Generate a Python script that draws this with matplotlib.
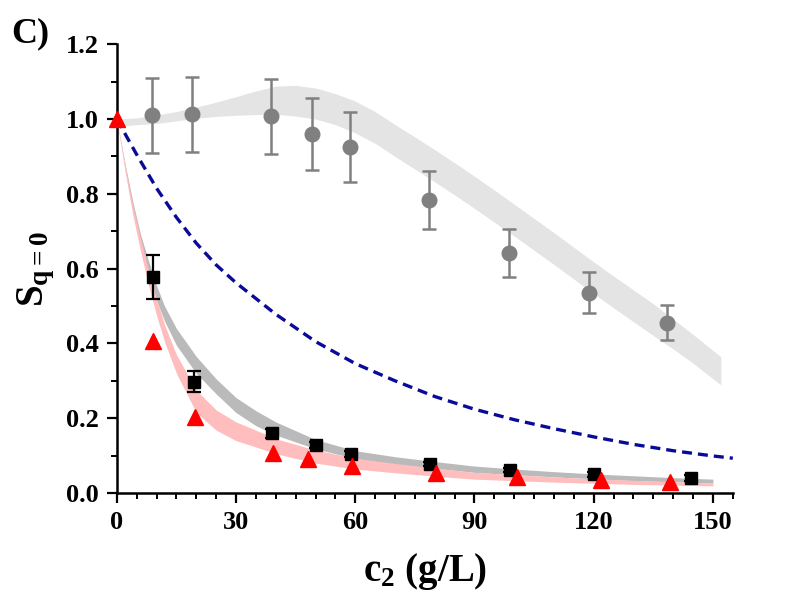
import numpy as np
import matplotlib
matplotlib.use("Agg")
import matplotlib.pyplot as plt
from matplotlib.ticker import MultipleLocator

plt.rcParams['font.family'] = ['Liberation Serif', 'DejaVu Serif']
plt.rcParams['font.weight'] = 'bold'
plt.rcParams['mathtext.fontset'] = 'custom'
plt.rcParams['mathtext.rm'] = 'Liberation Serif:bold'
plt.rcParams['mathtext.bf'] = 'Liberation Serif:bold'
plt.rcParams['mathtext.it'] = 'Liberation Serif:bold'

# measured points
circ_x = [8.8, 19.0, 38.7, 49.0, 58.6, 78.6, 98.6, 118.9, 138.5]
circ_y = [1.010, 1.013, 1.007, 0.961, 0.925, 0.783, 0.642, 0.535, 0.455]
circ_err = [0.10, 0.10, 0.10, 0.096, 0.094, 0.078, 0.065, 0.055, 0.047]

sq_x = [9.2, 19.3, 39.0, 50.1, 58.9, 78.8, 98.9, 120.2, 144.4]
sq_y = [0.578, 0.298, 0.160, 0.128, 0.104, 0.077, 0.061, 0.050, 0.041]
sq_err = [0.058, 0.029, 0.012, 0.008, 0.008, 0.006, 0.006, 0.006, 0.008]

tri_x = [0.0, 9.2, 19.7, 39.2, 48.0, 59.3, 80.2, 100.7, 121.8, 139.1]
tri_y = [1.0, 0.407, 0.202, 0.108, 0.090, 0.073, 0.053, 0.042, 0.035, 0.030]

# model bands
band1_x = [0, 5, 10, 15, 20, 25, 30, 35, 40, 45, 50, 55, 60, 65, 70, 75, 80, 85, 90, 95, 100,
           105, 110, 115, 120, 125, 130, 135, 140, 145, 152]
band1_hi = [1.0, 1.003, 1.011, 1.02, 1.032, 1.045, 1.06, 1.075, 1.088, 1.09, 1.083, 1.068, 1.048,
            1.02, 0.985, 0.952, 0.918, 0.883, 0.847, 0.81, 0.772, 0.734, 0.696, 0.657, 0.618,
            0.58, 0.543, 0.506, 0.465, 0.424, 0.364]
band1_lo = [0.98, 0.985, 0.988, 0.995, 1.002, 1.007, 1.01, 1.012, 1.013, 1.008, 1.0, 0.985, 0.963,
            0.935, 0.9, 0.866, 0.832, 0.797, 0.761, 0.724, 0.687, 0.649, 0.611, 0.572, 0.533,
            0.495, 0.458, 0.421, 0.385, 0.347, 0.289]

band_x = [0, 2, 4, 6, 8, 10, 12, 15, 20, 25, 30, 35, 40, 50, 60, 70, 80, 90, 100, 110, 120, 130, 140, 150]
band2_hi = [1.0, 0.885, 0.78, 0.69, 0.62, 0.555, 0.50, 0.44, 0.365, 0.305, 0.255, 0.22, 0.19, 0.143,
            0.113, 0.097, 0.084, 0.072, 0.064, 0.057, 0.051, 0.046, 0.041, 0.037]
band2_lo = [1.0, 0.875, 0.755, 0.66, 0.58, 0.515, 0.46, 0.395, 0.32, 0.265, 0.215, 0.18, 0.155, 0.118,
            0.092, 0.077, 0.066, 0.055, 0.049, 0.043, 0.038, 0.033, 0.030, 0.027]
band3_hi = [1.0, 0.88, 0.77, 0.68, 0.595, 0.52, 0.45, 0.37, 0.275, 0.222, 0.19, 0.168, 0.145, 0.115,
            0.093, 0.079, 0.067, 0.055, 0.049, 0.043, 0.038, 0.034, 0.030, 0.027]
band3_lo = [1.0, 0.865, 0.745, 0.645, 0.555, 0.475, 0.405, 0.32, 0.215, 0.168, 0.14, 0.123, 0.105, 0.08,
            0.064, 0.054, 0.045, 0.037, 0.033, 0.029, 0.026, 0.023, 0.021, 0.019]

dash_x = [0, 5, 10, 15, 20, 25, 30, 40, 50, 60, 70, 80, 90, 100, 110, 120, 130, 140, 150, 155]
dash_y = [1.0, 0.905, 0.815, 0.737, 0.668, 0.61, 0.562, 0.478, 0.405, 0.346, 0.30, 0.258, 0.224,
          0.196, 0.172, 0.150, 0.130, 0.113, 0.099, 0.093]

fig = plt.figure(figsize=(8, 6.06), dpi=100)
ax = fig.add_axes([0.146, 0.1865, 0.77, 0.7405])

ax.fill_between(band1_x, band1_lo, band1_hi, color='#e4e4e4', lw=0, zorder=1)
ax.fill_between(band_x, band2_lo, band2_hi, color='#bababa', lw=0, zorder=2)
ax.fill_between(band_x, band3_lo, band3_hi, color='#ffbdbd', lw=0, zorder=2)
ax.plot(dash_x, dash_y, color='#0a0a9a', lw=2.4, dashes=(3.0, 1.8), zorder=3)

ax.errorbar(circ_x, circ_y, yerr=circ_err, fmt='o', color='#808080', ms=10.5,
            capsize=5, elinewidth=1.8, capthick=1.8, zorder=4)
ax.errorbar(sq_x, sq_y, yerr=sq_err, fmt='s', color='black', ms=8.5,
            capsize=5, elinewidth=1.6, capthick=1.6, zorder=5)
ax.plot(tri_x, tri_y, '^', color='#ff0000', ms=12, ls='none', zorder=6, clip_on=False)

ax.set_xlim(0, 155)
ax.set_ylim(0, 1.2)
ax.xaxis.set_major_locator(MultipleLocator(30))
ax.xaxis.set_minor_locator(MultipleLocator(5))
ax.yaxis.set_major_locator(MultipleLocator(0.2))
ax.yaxis.set_minor_locator(MultipleLocator(0.1))
ax.yaxis.set_major_formatter(plt.FormatStrFormatter('%.1f'))

for s in ['top', 'right']:
    ax.spines[s].set_visible(False)
for s in ['left', 'bottom']:
    ax.spines[s].set_linewidth(1.8)
ax.tick_params(which='major', direction='out', length=7, width=1.6, labelsize=19, pad=6)
ax.tick_params(which='minor', direction='out', length=4, width=1.4)

ax.set_xlabel(r'$\mathrm{c_2}$ (g/L)', fontsize=28, fontweight='bold', labelpad=12)
ax.set_ylabel(r'$\mathrm{S_{q=0}}$', fontsize=28, fontweight='bold', labelpad=6)
fig.text(0.014, 0.945, 'C)', fontsize=26, fontweight='bold', va='center')

fig.savefig('out.png', dpi=100)
